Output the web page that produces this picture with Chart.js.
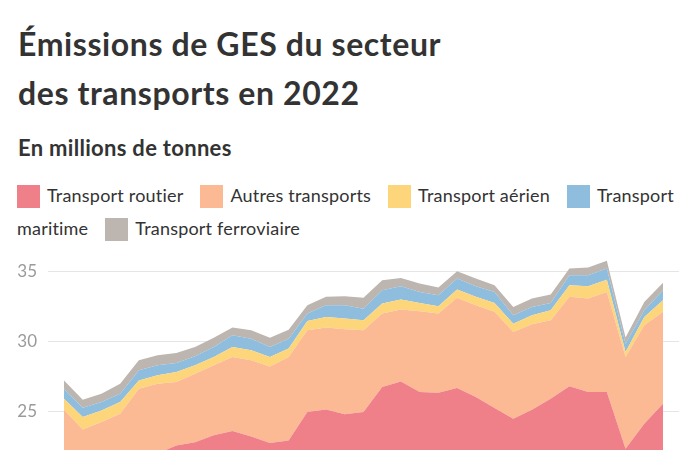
<!DOCTYPE html>
<html lang="fr">
<head>
<meta charset="utf-8">
<script src="https://cdn.jsdelivr.net/npm/chart.js@4/dist/chart.umd.min.js"></script>
<style>
  html, body { margin: 0; padding: 0; background: #fff; overflow: hidden; }
  body { width: 700px; height: 450px; position: relative; font-family: Lato, sans-serif; color: #333; }
  #titre { position: absolute; left: 18px; top: 19px; font-size: 32px; font-weight: 700; line-height: 49px; letter-spacing: 0.6px; color: #333; }
  #sous_titre { position: absolute; left: 18px; top: 136px; font-size: 22px; font-weight: 700; line-height: 24px; letter-spacing: 0.3px; color: #333; }
  #legende { position: absolute; left: 17px; top: 179px; width: 670px; font-size: 18px; line-height: 33px; letter-spacing: 0.2px; color: #333; }
  #legende .item { margin-right: 17px; }
  #legende .sw { display: inline-block; width: 23px; height: 23px; margin-right: 7px; vertical-align: -6px; }
  #zone { position: absolute; left: 0; top: 236px; width: 700px; height: 547px; }
</style>
</head>
<body>
<div id="titre">Émissions de GES du secteur<br>des transports en 2022</div>
<div id="sous_titre">En millions de tonnes</div>
<div id="legende"></div>
<div id="zone"><canvas id="canvas_ges"></canvas></div>
<script>
const annees = [1990, 1991, 1992, 1993, 1994, 1995, 1996, 1997, 1998, 1999, 2000,
  2001, 2002, 2003, 2004, 2005, 2006, 2007, 2008, 2009, 2010,
  2011, 2012, 2013, 2014, 2015, 2016, 2017, 2018, 2019, 2020, 2021, 2022];

const routier = [20.5, 20.3, 20.6, 21.0, 21.5, 22.0, 22.57, 22.8, 23.29, 23.6, 23.2,
  22.74, 22.93, 24.95, 25.14, 24.79, 24.95, 26.74, 27.14, 26.38, 26.33,
  26.67, 26.02, 25.24, 24.48, 25.12, 25.9, 26.79, 26.38, 26.38, 22.33, 24.12, 25.55];
const autres = [4.62, 3.4, 3.64, 3.83, 5.12, 4.98, 4.53, 4.89, 5.0, 5.28, 5.44,
  5.47, 5.95, 5.84, 5.84, 6.07, 5.84, 5.24, 5.12, 5.76, 5.65,
  6.43, 6.55, 6.86, 6.19, 6.09, 5.6, 6.38, 6.67, 7.14, 6.55, 7.02, 6.55];
const aerien = [0.78, 0.9, 0.83, 0.84, 0.59, 0.59, 0.71, 0.6, 0.59, 0.72, 0.72,
  0.67, 0.6, 0.66, 0.76, 0.76, 0.71, 0.71, 0.72, 0.6, 0.52,
  0.59, 0.6, 0.64, 0.59, 0.65, 0.71, 0.83, 0.88, 0.88, 0.35, 0.6, 0.83];
const maritime = [0.72, 0.66, 0.6, 0.59, 0.72, 0.72, 0.64, 0.64, 0.72, 0.83, 0.83,
  0.72, 0.71, 0.53, 0.83, 0.95, 0.83, 0.95, 0.95, 0.78, 0.79,
  0.79, 0.76, 0.78, 0.6, 0.59, 0.53, 0.71, 0.78, 0.79, 0.6, 0.47, 0.71];
const ferroviaire = [0.59, 0.57, 0.59, 0.72, 0.71, 0.71, 0.72, 0.67, 0.66, 0.55, 0.6,
  0.66, 0.64, 0.6, 0.6, 0.64, 0.77, 0.72, 0.59, 0.6, 0.54,
  0.52, 0.55, 0.48, 0.59, 0.6, 0.59, 0.48, 0.55, 0.55, 0.45, 0.6, 0.53];

const noms = ['Transport routier', 'Autres transports', 'Transport aérien', 'Transport maritime', 'Transport ferroviaire'];
const couleurs = ['#ef7f89', '#fbb994', '#fdd67b', '#8ebddd', '#bdb5af'];
const series = [routier, autres, aerien, maritime, ferroviaire];
const graduations = [0, 5, 10, 15, 20, 25, 30, 35];

// legende en HTML pour que le texte passe a la ligne comme dans l'original
const legende = document.getElementById('legende');
for (let i = 0; i < noms.length; i++) {
  const item = document.createElement('span');
  item.className = 'item';
  const sw = document.createElement('i');
  sw.className = 'sw';
  sw.style.background = couleurs[i];
  item.appendChild(sw);
  item.appendChild(document.createTextNode(noms[i]));
  legende.appendChild(item);
}

const datasets = [];
for (let i = 0; i < series.length; i++) {
  datasets.push({
    label: noms[i],
    data: annees.map((a, j) => ({ x: a, y: series[i][j] })),
    backgroundColor: couleurs[i],
    borderWidth: 0,
    pointRadius: 0,
    fill: i === 0 ? 'origin' : '-1',
  });
}

const canvasGes = document.getElementById('canvas_ges');
const chart = new Chart(canvasGes, {
  type: 'line',
  data: { datasets: datasets },
  options: {
    responsive: true,
    maintainAspectRatio: false,
    animation: false,
    layout: { padding: { top: 0, right: 21, bottom: 0, left: 0 } },
    elements: { line: { tension: 0 } },
    plugins: {
      legend: { display: false },
      tooltip: { enabled: false },
    },
    scales: {
      x: {
        type: 'linear',
        min: 1989.145,
        max: 2022.855,
        display: false,
      },
      y: {
        stacked: true,
        min: 0,
        max: 36,
        z: 1,
        border: { display: false },
        grid: { color: 'rgba(0,0,0,0.1)', drawTicks: false },
        ticks: {
          padding: 11,
          color: '#9a9a9a',
          font: { family: 'Lato', size: 17 },
        },
        afterBuildTicks: (axis) => {
          axis.ticks = graduations.map(v => ({ value: v }));
        },
        afterFit: (axis) => {
          axis.width = 48;
        },
      },
    },
  },
});
</script>
</body>
</html>
